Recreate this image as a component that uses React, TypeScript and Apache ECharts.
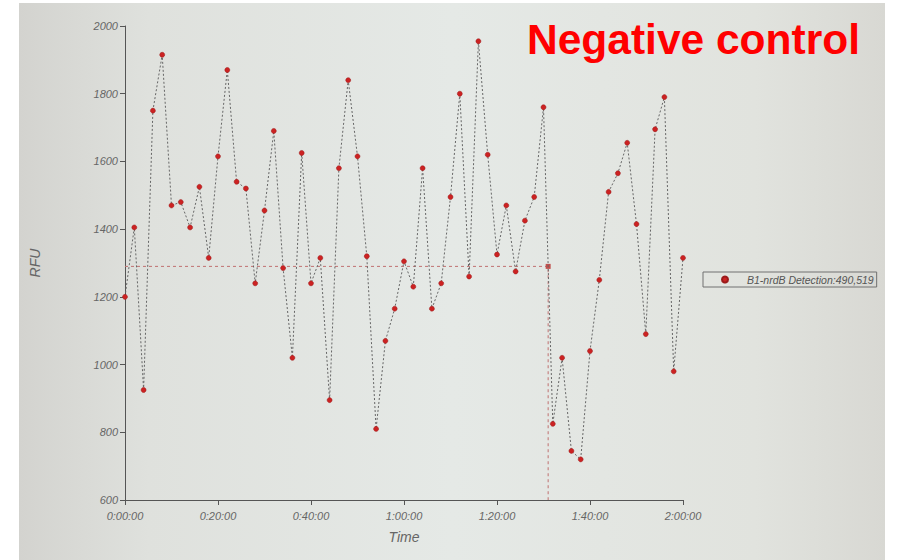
import React, { useEffect, useRef } from "react";
import * as echarts from "echarts";

// Time of each reading, in minutes
const TIMES_MIN = [
  0, 2, 4, 6, 8, 10, 12, 14, 16, 18, 20, 22, 24, 26, 28, 30, 32, 34, 36, 38,
  40, 42, 44, 46, 48, 50, 52, 54, 56, 58, 60, 62, 64, 66, 68, 70, 72, 74, 76,
  78, 80, 82, 84, 86, 88, 90, 92, 94, 96, 98, 100, 102, 104, 106, 108, 110,
  112, 114, 116, 118, 120,
];

// RFU readings (B1-nrdB Detection)
const RFU_VALUES = [
  1200, 1405, 925, 1750, 1915, 1470, 1480, 1405, 1525, 1315, 1615, 1870, 1540,
  1520, 1240, 1455, 1690, 1285, 1020, 1625, 1240, 1315, 895, 1580, 1840, 1615,
  1320, 810, 1070, 1165, 1305, 1230, 1580, 1165, 1240, 1495, 1800, 1260, 1955,
  1620, 1325, 1470, 1275, 1425, 1495, 1760, 825, 1020, 745, 720, 1040, 1250,
  1510, 1565, 1655, 1415, 1090, 1695, 1790, 980, 1315,
];

// Threshold and crossing time (minutes)
const THRESHOLD = 1290;
const CQ_TIME = 91;

const SERIES_NAME = "B1-nrdB Detection:490,519";
const TITLE = "Negative control";
const Y_TICKS = { min: 600, max: 2000, interval: 200 };
const X_TICKS = { min: 0, max: 120, interval: 20 };

const FONT = "'Liberation Sans', Arial, sans-serif";

function fmtTime(m: number): string {
  const h = Math.floor(m / 60);
  const mm = Math.round(m % 60);
  return `${h}:${mm < 10 ? "0" + mm : mm}:00`;
}

export default function App() {
  const ref = useRef<HTMLDivElement>(null);
  useEffect(() => {
    if (!ref.current) return;
    const chart = echarts.init(ref.current, undefined, { renderer: "svg" });
    const data = TIMES_MIN.map((t, i) => [t, RFU_VALUES[i]]);
    const thresholdData = [
      { value: [0, THRESHOLD], symbol: "none" },
      { value: [CQ_TIME, THRESHOLD], symbol: "rect", symbolSize: 5 },
      { value: [CQ_TIME, Y_TICKS.min], symbol: "none" },
    ];
    chart.setOption({
      animation: false,
      backgroundColor: "#ffffff",
      textStyle: { fontFamily: FONT },
      graphic: [
        {
          type: "rect",
          z: -10,
          silent: true,
          shape: { x: 19, y: 3, width: 866, height: 557 },
          style: {
            fill: {
              type: "linear",
              x: 0,
              y: 0,
              x2: 1,
              y2: 0,
              colorStops: [
                { offset: 0, color: "#d3d3cf" },
                { offset: 0.15, color: "#dfe1dd" },
                { offset: 0.5, color: "#e5e9e6" },
                { offset: 0.85, color: "#e1e3de" },
                { offset: 1, color: "#d8d8d3" },
              ],
            },
          },
        },
      ],
      title: {
        text: TITLE,
        left: 527,
        top: 18,
        padding: 0,
        textStyle: {
          fontFamily: FONT,
          fontSize: 42.5,
          fontWeight: "bold",
          color: "#ff0000",
        },
      },
      legend: {
        data: [SERIES_NAME],
        left: 703,
        top: 272,
        orient: "vertical",
        padding: [2, 3, 2, 18],
        borderColor: "#707070",
        borderWidth: 1,
        icon: "circle",
        itemWidth: 8,
        itemHeight: 6,
        textStyle: {
          fontFamily: FONT,
          fontSize: 10.5,
          fontStyle: "italic",
          color: "#555555",
          padding: [0, 0, 0, 13],
        },
      },
      grid: { left: 125, right: 214, top: 26, bottom: 60 },
      xAxis: {
        type: "value",
        min: X_TICKS.min,
        max: X_TICKS.max,
        interval: X_TICKS.interval,
        name: "Time",
        nameLocation: "middle",
        nameGap: 30,
        nameTextStyle: {
          fontFamily: FONT,
          fontSize: 14,
          fontStyle: "italic",
          color: "#666666",
        },
        axisLine: { show: true, lineStyle: { color: "#555555", width: 1 } },
        axisTick: { show: true, length: 5, lineStyle: { color: "#555555" } },
        axisLabel: {
          margin: 10,
          fontFamily: FONT,
          fontSize: 11,
          fontStyle: "italic",
          color: "#666666",
          formatter: (v: number) => fmtTime(v),
        },
        splitLine: { show: false },
      },
      yAxis: {
        type: "value",
        min: Y_TICKS.min,
        max: Y_TICKS.max,
        interval: Y_TICKS.interval,
        name: "RFU",
        nameLocation: "middle",
        nameGap: 83,
        nameRotate: 90,
        nameTextStyle: {
          fontFamily: FONT,
          fontSize: 14,
          fontStyle: "italic",
          color: "#666666",
        },
        axisLine: { show: true, lineStyle: { color: "#555555", width: 1 } },
        axisTick: { show: true, length: 5, lineStyle: { color: "#555555" } },
        axisLabel: {
          margin: 7,
          fontFamily: FONT,
          fontSize: 11,
          fontStyle: "italic",
          color: "#666666",
          formatter: (v: number) => String(v),
        },
        splitLine: { show: false },
      },
      series: [
        {
          name: "Threshold",
          type: "line",
          data: thresholdData,
          showSymbol: true,
          symbol: "none",
          itemStyle: { color: "#c0504d" },
          lineStyle: { color: "#c07070", width: 1, type: [3, 3] },
          z: 1,
          silent: true,
        },
        {
          name: SERIES_NAME,
          type: "line",
          data,
          symbol: "circle",
          symbolSize: 5,
          showSymbol: true,
          itemStyle: { color: "#cc2222", borderColor: "#9a1a1a", borderWidth: 0.5 },
          lineStyle: { color: "#666666", width: 1, type: [2, 2] },
          z: 2,
        },
      ],
    });
    return () => chart.dispose();
  }, []);
  return (
    <div
      ref={ref}
      style={{ position: "absolute", left: 0, top: 0, width: 897, height: 560 }}
    />
  );
}
